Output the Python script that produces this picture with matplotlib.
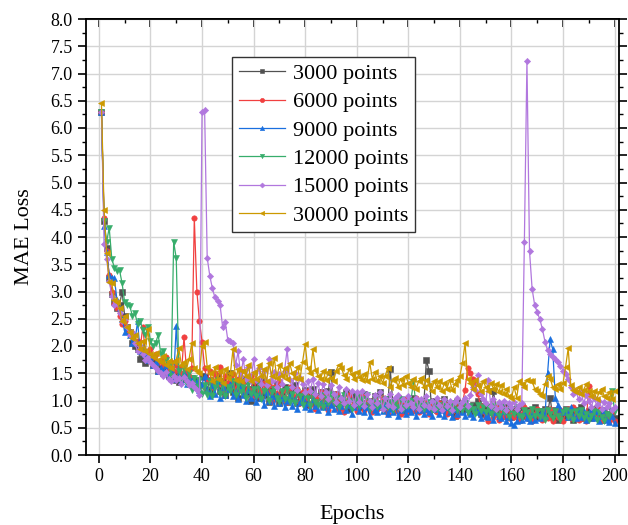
import matplotlib
matplotlib.use("Agg")
import matplotlib.pyplot as plt
from matplotlib.ticker import MultipleLocator, FormatStrFormatter

plt.rcParams['font.family'] = ['Liberation Serif', 'DejaVu Serif']

epochs = list(range(1, 201))

loss_3000 = [
    6.30, 4.30, 3.80, 3.25, 2.95, 2.80, 2.70, 2.75, 3.00, 2.55,
    2.35, 2.25, 2.05, 2.00, 1.95, 1.76, 1.85, 1.69, 1.80, 1.75,
    1.65, 1.70, 1.55, 1.60, 1.50, 1.55, 1.45, 1.41, 1.50, 1.38,
    1.34, 1.45, 1.40, 1.50, 1.35, 1.42, 1.30, 1.38, 1.28, 1.45,
    1.43, 1.20, 1.38, 1.15, 1.30, 1.45, 1.18, 1.35, 1.10, 1.28,
    1.50, 1.15, 1.32, 1.05, 1.25, 1.40, 1.12, 1.22, 1.00, 1.30,
    1.18, 1.05, 1.35, 1.10, 1.25, 0.98, 1.20, 1.08, 1.30, 0.95,
    1.15, 1.25, 0.98, 1.18, 1.05, 1.28, 0.95, 1.12, 1.00, 1.20,
    0.92, 1.10, 1.22, 0.95, 1.08, 1.15, 0.90, 1.05, 1.18, 1.53,
    0.95, 1.12, 0.88, 1.05, 0.95, 1.15, 0.85, 1.02, 1.10, 0.90,
    1.05, 0.88, 1.12, 0.95, 1.00, 0.85, 1.08, 0.92, 1.15, 0.88,
    1.02, 0.90, 1.57, 0.95, 0.85, 1.05, 0.92, 0.80, 1.00, 0.95,
    0.85, 1.05, 0.90, 0.82, 1.00, 0.92, 1.75, 1.55, 0.85, 1.00,
    0.82, 0.95, 0.88, 1.02, 0.80, 0.92, 0.85, 0.72, 0.98, 0.88,
    0.80, 0.95, 0.85, 0.78, 0.92, 0.82, 1.00, 0.75, 0.90, 0.80,
    0.88, 0.78, 1.18, 0.85, 0.75, 0.90, 0.72, 0.88, 0.80, 0.70,
    0.85, 0.75, 0.65, 0.88, 0.72, 0.82, 0.68, 0.78, 0.88, 0.70,
    0.80, 0.72, 0.85, 0.75, 1.05, 0.70, 0.82, 0.65, 0.78, 0.72,
    0.85, 0.70, 0.78, 0.65, 0.82, 0.72, 0.88, 0.68, 0.75, 0.80,
    0.68, 0.85, 0.72, 0.78, 0.65, 0.82, 0.70, 0.75, 0.80, 0.68,
]

loss_6000 = [
    6.30, 4.35, 3.75, 3.30, 3.00, 2.77, 2.70, 2.55, 2.40, 2.45,
    2.30, 2.20, 2.23, 2.05, 2.10, 1.95, 2.34, 1.90, 1.85, 1.95,
    1.80, 1.85, 1.70, 1.75, 1.65, 1.80, 1.60, 1.70, 1.55, 1.65,
    1.60, 1.50, 2.16, 1.55, 1.45, 1.60, 4.35, 3.00, 2.45, 2.08,
    1.60, 1.35, 1.55, 1.25, 1.50, 1.30, 1.62, 1.20, 1.45, 1.32,
    1.25, 1.48, 1.18, 1.40, 1.55, 1.15, 1.35, 1.22, 1.45, 1.10,
    1.38, 1.20, 1.05, 1.32, 1.15, 1.28, 1.00, 1.25, 1.12, 1.35,
    1.05, 1.20, 0.98, 1.25, 1.10, 1.00, 1.22, 0.95, 1.15, 1.05,
    1.18, 0.92, 1.10, 0.85, 1.05, 1.15, 0.90, 1.08, 0.82, 1.00,
    0.95, 1.12, 0.85, 1.02, 0.78, 0.98, 1.10, 0.88, 1.00, 0.80,
    0.95, 1.08, 0.82, 1.00, 0.90, 0.78, 1.02, 0.85, 0.95, 1.05,
    0.82, 0.75, 0.98, 0.88, 0.80, 1.00, 0.75, 0.92, 1.02, 0.78,
    0.92, 0.80, 1.05, 0.78, 0.90, 0.98, 0.82, 0.75, 0.95, 0.85,
    0.78, 0.95, 0.85, 1.00, 0.75, 0.90, 0.80, 0.95, 0.72, 0.88,
    0.95, 1.20, 1.60, 1.51, 1.40, 1.30, 1.12, 0.90, 0.80, 0.70,
    0.62, 0.82, 0.70, 0.88, 0.65, 0.80, 0.72, 0.85, 0.68, 0.78,
    0.70, 0.85, 0.65, 0.75, 0.88, 0.68, 0.80, 0.62, 0.75, 0.85,
    0.70, 0.65, 0.82, 0.68, 0.85, 0.62, 0.78, 0.70, 0.82, 0.62,
    0.78, 0.85, 0.68, 0.88, 0.72, 0.65, 0.80, 0.70, 0.62, 1.27,
    0.75, 0.82, 0.68, 0.85, 0.65, 0.78, 0.72, 0.62, 0.80, 0.62,
]

loss_9000 = [
    6.30, 4.20, 3.73, 3.30, 3.25, 3.24, 2.85, 2.70, 2.50, 2.26,
    2.35, 2.20, 2.05, 2.10, 2.45, 1.90, 2.00, 1.85, 1.75, 1.80,
    1.65, 1.70, 1.55, 1.60, 1.50, 1.65, 1.45, 1.52, 1.40, 2.37,
    1.45, 1.35, 1.50, 1.30, 1.42, 1.38, 1.25, 1.35, 1.20, 1.30,
    1.45, 1.20, 1.08, 1.28, 1.12, 1.35, 1.05, 1.25, 1.10, 1.22,
    1.30, 1.08, 1.18, 1.02, 1.25, 1.10, 1.00, 1.20, 1.05, 1.15,
    0.98, 1.12, 1.05, 0.92, 1.15, 1.00, 1.08, 0.90, 1.10, 0.95,
    1.05, 0.88, 1.00, 1.10, 0.90, 1.02, 0.85, 0.98, 1.05, 0.88,
    0.95, 0.85, 1.02, 0.90, 0.82, 0.98, 0.88, 0.95, 0.78, 0.92,
    0.85, 0.98, 0.80, 0.90, 1.00, 0.82, 0.92, 0.75, 0.88, 0.95,
    0.80, 0.92, 0.78, 0.88, 0.72, 0.95, 0.82, 0.78, 0.90, 0.80,
    0.92, 0.75, 0.85, 0.78, 0.90, 0.72, 0.82, 0.88, 0.75, 0.85,
    0.78, 0.90, 0.72, 0.82, 0.92, 0.75, 0.85, 0.78, 0.72, 0.85,
    0.90, 0.75, 0.82, 0.72, 0.88, 0.78, 0.70, 0.85, 0.75, 0.88,
    0.78, 0.72, 0.88, 0.75, 0.70, 0.85, 0.78, 0.68, 0.82, 0.72,
    0.70, 0.82, 0.65, 0.78, 0.72, 0.68, 0.80, 0.62, 0.70, 0.58,
    0.55, 0.62, 0.75, 0.65, 0.78, 0.68, 0.62, 0.75, 0.65, 0.78,
    0.68, 0.80, 0.72, 1.50, 2.12, 1.94, 1.05, 0.92, 0.85, 0.78,
    0.82, 0.70, 0.88, 0.72, 0.68, 0.82, 0.70, 0.80, 0.65, 0.75,
    0.85, 0.68, 0.80, 0.62, 0.72, 0.82, 0.65, 0.60, 0.72, 0.58,
]

loss_12000 = [
    6.30, 4.30, 3.91, 4.17, 3.60, 3.44, 3.37, 3.39, 3.15, 2.80,
    2.75, 2.73, 2.55, 2.60, 2.40, 2.45, 2.30, 2.20, 2.35, 2.10,
    2.00, 2.05, 2.21, 1.85, 1.90, 1.75, 1.65, 1.45, 3.91, 3.61,
    1.55, 1.35, 1.60, 1.30, 1.50, 1.20, 1.42, 1.25, 1.38, 1.12,
    1.28, 1.10, 1.35, 1.08, 1.25, 1.38, 1.12, 1.30, 1.08, 1.25,
    1.18, 1.35, 1.10, 1.28, 1.15, 1.25, 1.05, 1.30, 1.12, 1.22,
    1.08, 1.28, 1.02, 1.18, 1.25, 1.00, 1.15, 1.22, 1.05, 0.98,
    1.18, 1.02, 1.22, 0.98, 1.12, 0.95, 1.15, 1.08, 0.92, 1.10,
    1.05, 0.90, 1.12, 0.98, 0.92, 1.10, 0.88, 1.05, 0.95, 1.12,
    0.95, 1.05, 0.88, 1.02, 1.10, 0.90, 1.00, 0.85, 0.98, 1.08,
    0.90, 1.02, 0.92, 1.10, 0.85, 0.98, 1.05, 0.88, 0.95, 0.82,
    1.02, 0.88, 0.98, 0.82, 0.95, 0.88, 1.02, 0.85, 0.95, 0.90,
    1.00, 1.34, 0.90, 0.88, 0.95, 0.85, 0.92, 0.98, 0.82, 0.95,
    0.85, 0.92, 0.82, 0.98, 0.88, 0.80, 0.90, 0.95, 0.82, 0.92,
    0.82, 0.95, 0.78, 0.90, 0.85, 0.75, 0.92, 0.80, 0.88, 0.78,
    0.88, 0.75, 0.90, 0.80, 0.72, 0.88, 0.78, 0.82, 0.70, 0.85,
    0.75, 0.88, 0.72, 0.70, 0.82, 0.78, 0.68, 0.85, 0.72, 0.80,
    0.70, 0.80, 0.65, 0.82, 0.75, 0.68, 0.80, 0.72, 0.65, 0.78,
    0.82, 0.70, 0.78, 0.65, 0.80, 0.72, 0.82, 0.68, 0.75, 0.65,
    0.72, 0.80, 0.65, 0.78, 0.70, 0.62, 0.75, 0.72, 1.18, 0.80,
]

loss_15000 = [
    6.30, 3.87, 3.60, 3.20, 2.92, 2.75, 2.80, 2.60, 2.45, 2.50,
    2.35, 2.20, 2.25, 2.05, 1.90, 2.00, 1.85, 1.75, 1.80, 1.70,
    1.65, 1.60, 1.55, 1.50, 1.45, 1.52, 1.40, 1.35, 1.45, 1.38,
    1.42, 1.30, 1.44, 1.35, 1.28, 1.32, 1.25, 1.20, 1.10, 6.30,
    6.33, 3.62, 3.29, 3.06, 2.89, 2.83, 2.75, 2.34, 2.44, 2.11,
    2.09, 2.06, 1.65, 1.90, 1.45, 1.76, 1.40, 1.62, 1.35, 1.76,
    1.38, 1.60, 1.30, 1.55, 1.28, 1.76, 1.35, 1.52, 1.25, 1.48,
    1.30, 1.55, 1.94, 1.38, 1.25, 1.50, 1.20, 1.42, 1.30, 1.15,
    1.35, 1.18, 1.40, 1.12, 1.32, 1.08, 1.30, 1.15, 1.02, 1.28,
    1.12, 0.98, 1.25, 1.05, 0.95, 1.22, 1.00, 1.18, 0.92, 1.15,
    0.98, 1.18, 0.90, 1.12, 1.00, 0.88, 1.10, 0.95, 1.15, 0.85,
    1.05, 0.92, 1.12, 0.88, 1.05, 1.10, 0.85, 1.02, 0.92, 1.08,
    0.95, 0.88, 1.05, 0.85, 1.02, 0.92, 1.08, 0.88, 1.00, 0.85,
    1.05, 0.92, 0.82, 1.02, 0.90, 1.00, 0.82, 0.98, 1.05, 0.88,
    0.98, 1.05, 0.90, 1.10, 1.25, 1.20, 1.47, 1.12, 1.02, 0.95,
    1.37, 0.90, 1.02, 0.85, 0.98, 0.88, 1.00, 0.82, 0.95, 0.88,
    0.98, 0.85, 0.92, 0.95, 3.90, 7.23, 3.74, 3.05, 2.75, 2.62,
    2.49, 2.31, 2.08, 1.92, 1.85, 1.80, 1.77, 1.71, 1.63, 1.55,
    1.48, 1.40, 1.25, 1.12, 1.18, 1.02, 1.15, 0.95, 1.10, 1.00,
    0.88, 1.05, 0.92, 1.00, 0.85, 0.98, 0.88, 0.95, 0.82, 0.88,
]

loss_30000 = [
    6.45, 4.50, 3.70, 3.18, 3.15, 2.85, 2.80, 2.70, 2.45, 2.55,
    2.35, 2.25, 2.15, 2.20, 2.05, 1.95, 2.10, 1.90, 2.32, 1.85,
    1.80, 1.88, 1.75, 1.70, 1.82, 1.65, 1.72, 1.60, 1.70, 1.75,
    1.96, 1.65, 1.70, 1.58, 1.77, 2.05, 1.60, 1.55, 1.50, 2.00,
    2.08, 1.62, 1.50, 1.35, 1.62, 1.40, 1.55, 1.32, 1.58, 1.42,
    1.50, 1.94, 1.38, 1.58, 1.35, 1.55, 1.45, 1.65, 1.35, 1.52,
    1.40, 1.65, 1.45, 1.58, 1.35, 1.68, 1.45, 1.78, 1.42, 1.65,
    1.45, 1.60, 1.40, 1.68, 1.50, 1.42, 1.62, 1.40, 1.71, 2.03,
    1.60, 1.50, 1.94, 1.56, 1.45, 1.40, 1.55, 1.38, 1.52, 1.42,
    1.35, 1.55, 1.65, 1.60, 1.47, 1.40, 1.58, 1.48, 1.40, 1.52,
    1.44, 1.38, 1.48, 1.35, 1.71, 1.40, 1.52, 1.35, 1.45, 1.32,
    1.45, 1.59, 1.25, 1.38, 1.42, 1.25, 1.40, 1.28, 1.45, 1.32,
    1.25, 1.40, 1.22, 1.35, 1.42, 1.25, 1.38, 1.28, 1.18, 1.35,
    1.25, 1.35, 1.18, 1.32, 1.22, 1.38, 1.20, 1.30, 1.38, 1.45,
    1.69, 2.05, 1.40, 1.32, 1.22, 1.38, 1.28, 1.18, 1.35, 1.25,
    1.18, 1.32, 1.22, 1.30, 1.15, 1.28, 1.12, 1.22, 1.08, 1.05,
    1.25, 1.05, 1.35, 1.30, 1.25, 1.38, 1.36, 1.35, 1.22, 1.18,
    1.12, 1.08, 1.30, 1.45, 1.40, 1.25, 1.22, 1.30, 1.22, 1.32,
    1.62, 1.96, 1.28, 1.20, 1.15, 1.25, 1.12, 1.20, 1.30, 1.18,
    1.08, 1.18, 1.02, 1.15, 1.22, 1.08, 1.05, 1.15, 1.02, 1.18,
]

labels = ['3000 points', '6000 points', '9000 points',
          '12000 points', '15000 points', '30000 points']
colors = ['#515151', '#F14040', '#1A6FDF', '#37AD6B', '#B177DE', '#CC9900']
markers = ['s', 'o', '^', 'v', 'D', '<']
series = [loss_3000, loss_6000, loss_9000, loss_12000, loss_15000, loss_30000]

fig = plt.figure(figsize=(6.28, 5.25), dpi=100)
ax = fig.add_axes([86/628, 70/525, 533/628, 436/525])

for y, lab, c, m in zip(series, labels, colors, markers):
    ms = 3.2 if m == 'D' else 3.9
    ax.plot(epochs, y, color=c, marker=m, markersize=ms, linewidth=0.9,
            markeredgewidth=0.4, label=lab)

ax.set_xlim(-5, 201.7)
ax.set_ylim(0, 8)
ax.xaxis.set_major_locator(MultipleLocator(20))
ax.xaxis.set_minor_locator(MultipleLocator(10))
ax.yaxis.set_major_locator(MultipleLocator(0.5))
ax.yaxis.set_minor_locator(MultipleLocator(0.25))
ax.yaxis.set_major_formatter(FormatStrFormatter('%.1f'))

ax.grid(True, which='major', color='#d4d4d4', linewidth=1.0)
ax.set_axisbelow(True)

ax.tick_params(axis='both', which='major', direction='out', length=5.5, width=1.2,
               labelsize=13, pad=4)
ax.tick_params(axis='both', which='minor', direction='out', length=3, width=1.0)
ax.tick_params(axis='y', which='both', right=True)

top = ax.secondary_xaxis('top')
top.xaxis.set_major_locator(MultipleLocator(20))
top.xaxis.set_minor_locator(MultipleLocator(10))
top.tick_params(which='major', direction='in', length=5.5, width=1.2, labeltop=False)
top.tick_params(which='minor', direction='in', length=3, width=1.0)
top.spines['top'].set_linewidth(1.3)

for s in ax.spines.values():
    s.set_linewidth(1.3)

ax.set_xlabel('Epochs', fontsize=16, labelpad=14)
ax.set_ylabel('MAE Loss', fontsize=16, labelpad=12)

leg = ax.legend(loc='upper left', bbox_to_anchor=(0.274, 0.913), fontsize=16,
                frameon=True, fancybox=False, framealpha=1, edgecolor='#333333',
                borderaxespad=0, borderpad=0.3, labelspacing=0.35,
                handlelength=2.1, handletextpad=0.35, markerscale=0.8)
leg.get_frame().set_linewidth(1.0)

fig.savefig('out.png', dpi=100)
